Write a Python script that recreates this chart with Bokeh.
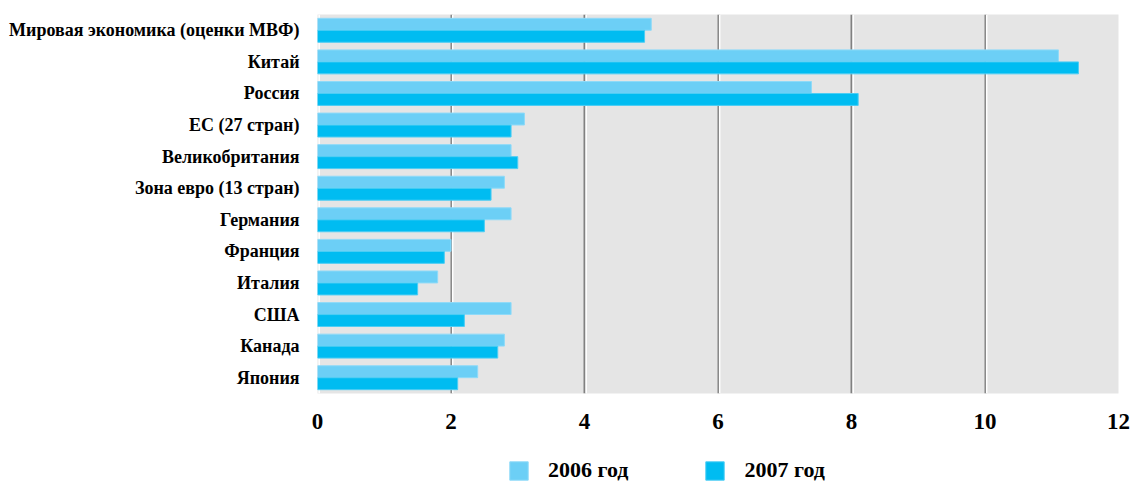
from bokeh.plotting import figure
from bokeh.layouts import column
from bokeh.models import ColumnDataSource, FactorRange, Legend, LegendItem, FixedTicker, Span
from bokeh.transform import dodge
from bokeh.embed import file_html
from bokeh.resources import INLINE

# Real GDP growth, % per year
countries = [
    "Мировая экономика (оценки МВФ)",
    "Китай",
    "Россия",
    "ЕС (27 стран)",
    "Великобритания",
    "Зона евро (13 стран)",
    "Германия",
    "Франция",
    "Италия",
    "США",
    "Канада",
    "Япония",
]
growth_2006 = [5.0, 11.1, 7.4, 3.1, 2.9, 2.8, 2.9, 2.0, 1.8, 2.9, 2.8, 2.4]
growth_2007 = [4.9, 11.4, 8.1, 2.9, 3.0, 2.6, 2.5, 1.9, 1.5, 2.2, 2.7, 2.1]
x_ticks = [0, 2, 4, 6, 8, 10, 12]
series_labels = ["2006 год", "2007 год"]

COLOR_2006 = "#6ccff6"
COLOR_2007 = "#00bcf1"
EDGE_2006 = "#8fdaf8"
EDGE_2007 = "#4ccdf4"
FONT = "Liberation Serif"

source = ColumnDataSource(dict(country=countries, g2006=growth_2006, g2007=growth_2007))

p = figure(
    width=1133, height=440,
    y_range=FactorRange(*reversed(countries), range_padding=0),
    x_range=(0, 12),
    output_backend="svg", toolbar_location=None,
    min_border_left=317, min_border_right=15, min_border_top=14, min_border_bottom=47,
)
p.background_fill_color = "#e5e5e5"
p.border_fill_color = "white"
p.outline_line_color = None

bar_h = 0.378
p.hbar(y=dodge("country", 0.19, range=p.y_range), right="g2006", left=0, height=bar_h,
       source=source, fill_color=COLOR_2006, line_color=EDGE_2006, line_width=1)
p.hbar(y=dodge("country", -0.19, range=p.y_range), right="g2007", left=0, height=bar_h,
       source=source, fill_color=COLOR_2007, line_color=EDGE_2007, line_width=1)

# vertical grid: dark rule with a thin white highlight on its right side
p.ygrid.grid_line_color = None
p.xgrid.ticker = FixedTicker(ticks=x_ticks)
p.xgrid.grid_line_color = "#808080"
p.xgrid.grid_line_width = 2
p.xgrid.level = "underlay"
for t in x_ticks[:-1]:
    p.add_layout(Span(location=t + 0.025, dimension="height", line_color="white",
                      line_width=1.5, level="underlay"))

# x axis
xa = p.xaxis[0]
xa.ticker = FixedTicker(ticks=x_ticks)
xa.axis_line_color = None
xa.major_tick_line_color = None
xa.minor_tick_line_color = None
xa.major_label_standoff = 14
xa.major_label_text_font = FONT
xa.major_label_text_font_style = "bold"
xa.major_label_text_font_size = "23px"
xa.major_label_text_color = "black"

# y axis
ya = p.yaxis[0]
ya.axis_line_color = None
ya.major_tick_line_color = None
ya.minor_tick_line_color = None
ya.major_label_standoff = 12
ya.major_label_text_font = FONT
ya.major_label_text_font_style = "bold"
ya.major_label_text_font_size = "18px"
ya.major_label_text_color = "black"

# legend strip underneath the chart (its frame lines up with the chart's frame)
lg = figure(
    width=1133, height=45, x_range=(0, 10), y_range=(0, 10),
    output_backend="svg", toolbar_location=None,
    min_border=0, outline_line_color=None,
)
lg.axis.visible = False
lg.grid.visible = False
offscreen = ColumnDataSource(dict(y=[-100], right=[1]))
k06 = lg.hbar(y="y", right="right", height=1, source=offscreen,
              fill_color=COLOR_2006, line_color=EDGE_2006, line_width=1)
k07 = lg.hbar(y="y", right="right", height=1, source=offscreen,
              fill_color=COLOR_2007, line_color=EDGE_2007, line_width=1)
legend = Legend(
    items=[LegendItem(label=series_labels[0], renderers=[k06]),
           LegendItem(label=series_labels[1], renderers=[k07])],
    orientation="horizontal",
    location=(190, 2),
    glyph_width=23, glyph_height=23,
    label_standoff=18, spacing=75,
    padding=0, margin=0,
    border_line_color=None, background_fill_alpha=0,
    label_text_font=FONT, label_text_font_style="bold",
    label_text_font_size="22px", label_text_color="black",
)
lg.add_layout(legend)

layout = column(p, lg, spacing=0)
open("out.html", "w").write(file_html(layout, INLINE))
